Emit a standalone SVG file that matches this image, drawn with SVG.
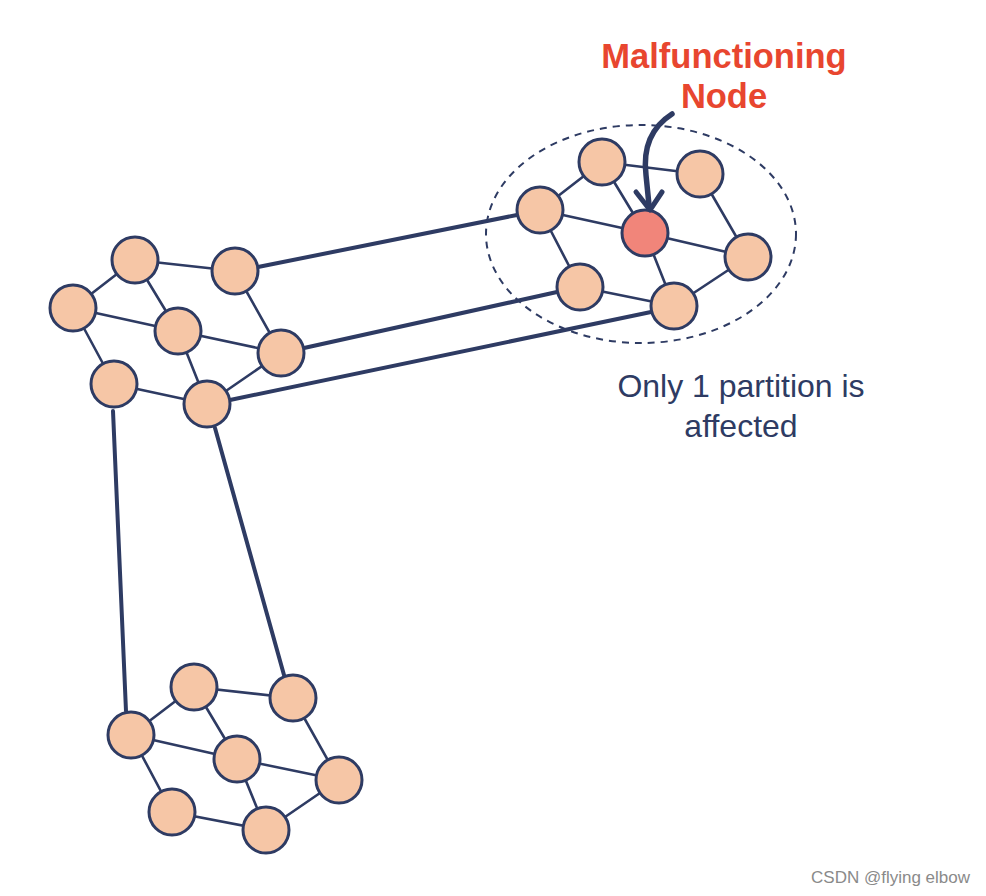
<svg xmlns="http://www.w3.org/2000/svg" width="986" height="896" viewBox="0 0 986 896">
<style>
.n{fill:#f6c6a6;stroke:#2e3b63;stroke-width:3}
.bad{fill:#f1857a;stroke:#2e3b63;stroke-width:3}
.e{stroke:#2e3b63;stroke-width:2.6;fill:none;stroke-linecap:round}
.L{stroke:#2e3b63;stroke-width:4;fill:none;stroke-linecap:round}
.red{font-family:"Liberation Sans",Arial,sans-serif;font-weight:bold;font-size:34.5px;fill:#e8462f;text-anchor:middle}
.lbl{font-family:"Liberation Sans",Arial,sans-serif;font-size:32px;fill:#2e3b63;text-anchor:middle}
</style>
<rect width="986" height="896" fill="#ffffff"/>
<g id="connectors">
<line class="e" x1="602" y1="162" x2="700" y2="174"/>
<line class="e" x1="602" y1="162" x2="540" y2="210"/>
<line class="e" x1="602" y1="162" x2="645" y2="233"/>
<line class="e" x1="540" y1="210" x2="645" y2="233"/>
<line class="e" x1="540" y1="210" x2="580" y2="287"/>
<line class="e" x1="700" y1="174" x2="748" y2="257"/>
<line class="e" x1="645" y1="233" x2="748" y2="257"/>
<line class="e" x1="645" y1="233" x2="674" y2="306"/>
<line class="e" x1="580" y1="287" x2="674" y2="306"/>
<line class="e" x1="748" y1="257" x2="674" y2="306"/>
<line class="e" x1="135" y1="260" x2="235" y2="271"/>
<line class="e" x1="135" y1="260" x2="73" y2="308"/>
<line class="e" x1="135" y1="260" x2="178" y2="331"/>
<line class="e" x1="73" y1="308" x2="178" y2="331"/>
<line class="e" x1="73" y1="308" x2="114" y2="384"/>
<line class="e" x1="235" y1="271" x2="281" y2="353"/>
<line class="e" x1="178" y1="331" x2="281" y2="353"/>
<line class="e" x1="178" y1="331" x2="207" y2="404"/>
<line class="e" x1="114" y1="384" x2="207" y2="404"/>
<line class="e" x1="281" y1="353" x2="207" y2="404"/>
<line class="e" x1="194" y1="687" x2="293" y2="698"/>
<line class="e" x1="194" y1="687" x2="131" y2="735"/>
<line class="e" x1="194" y1="687" x2="237" y2="759"/>
<line class="e" x1="131" y1="735" x2="237" y2="759"/>
<line class="e" x1="131" y1="735" x2="172" y2="812"/>
<line class="e" x1="293" y1="698" x2="339" y2="780"/>
<line class="e" x1="237" y1="759" x2="339" y2="780"/>
<line class="e" x1="237" y1="759" x2="266" y2="830"/>
<line class="e" x1="172" y1="812" x2="266" y2="830"/>
<line class="e" x1="339" y1="780" x2="266" y2="830"/>
<line class="L" x1="258" y1="267" x2="517" y2="215"/>
<line class="L" x1="304" y1="348" x2="557" y2="292"/>
<line class="L" x1="230" y1="400" x2="651" y2="312"/>
<line class="L" x1="113" y1="411" x2="126" y2="711"/>
<line class="L" x1="215" y1="428" x2="284" y2="675"/>
</g>
<g id="partition">
<ellipse cx="641" cy="234" rx="155" ry="109" fill="none" stroke="#2e3b63" stroke-width="2" stroke-dasharray="7,6"/>
</g>
<g id="top-right-nodes">
<circle class="n" cx="602" cy="162" r="23"/>
<circle class="n" cx="700" cy="174" r="23"/>
<circle class="n" cx="540" cy="210" r="23"/>
<circle class="bad" cx="645" cy="233" r="23"/>
<circle class="n" cx="748" cy="257" r="23"/>
<circle class="n" cx="580" cy="287" r="23"/>
<circle class="n" cx="674" cy="306" r="23"/>
</g>
<g id="left-nodes">
<circle class="n" cx="135" cy="260" r="23"/>
<circle class="n" cx="235" cy="271" r="23"/>
<circle class="n" cx="73" cy="308" r="23"/>
<circle class="n" cx="178" cy="331" r="23"/>
<circle class="n" cx="281" cy="353" r="23"/>
<circle class="n" cx="114" cy="384" r="23"/>
<circle class="n" cx="207" cy="404" r="23"/>
</g>
<g id="bottom-nodes">
<circle class="n" cx="194" cy="687" r="23"/>
<circle class="n" cx="293" cy="698" r="23"/>
<circle class="n" cx="131" cy="735" r="23"/>
<circle class="n" cx="237" cy="759" r="23"/>
<circle class="n" cx="339" cy="780" r="23"/>
<circle class="n" cx="172" cy="812" r="23"/>
<circle class="n" cx="266" cy="830" r="23"/>
</g>
<g id="pointer">
<path d="M672,114 C650,128 643,150 646,175 L649,205" fill="none" stroke="#2e3b63" stroke-width="5.5" stroke-linecap="round"/>
<path d="M636,192 L650,210 L662,192" fill="none" stroke="#2e3b63" stroke-width="5" stroke-linecap="round" stroke-linejoin="round"/>
</g>
<g id="labels">
<text class="red" x="724" y="68">Malfunctioning</text>
<text class="red" x="724" y="108">Node</text>
<text class="lbl" x="741" y="397">Only 1 partition is</text>
<text class="lbl" x="741" y="437">affected</text>
<text x="970" y="883" font-family="Liberation Sans,Arial,sans-serif" font-size="17" fill="#8a8a8a" text-anchor="end">CSDN @flying elbow</text>
</g>
</svg>
